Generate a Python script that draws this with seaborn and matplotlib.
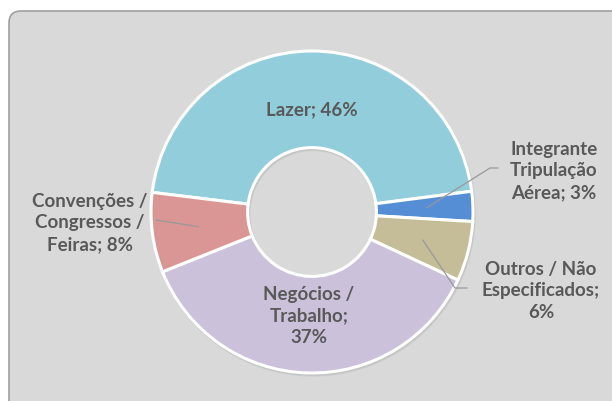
import numpy as np
import matplotlib
matplotlib.use("Agg")
import matplotlib.pyplot as plt
from matplotlib.patches import FancyBboxPatch, Wedge
import seaborn as sns

# ---- data ----
categories = ["Lazer", "Integrante Tripulação Aérea", "Outros / Não Especificados",
              "Negócios / Trabalho", "Convenções / Congressos / Feiras"]
values = [46, 3, 6, 37, 8]
label_texts = ["Lazer; 46%", "Integrante\nTripulação\nAérea; 3%",
               "Outros / Não\nEspecificados;\n6%", "Negócios /\nTrabalho;\n37%",
               "Convenções /\nCongressos /\nFeiras; 8%"]
colors = ["#92CDDC", "#558ED5", "#C4BD97", "#CCC1DA", "#D99694"]

sns.set_style("white")
plt.rcParams['font.family'] = ['Lato', 'DejaVu Sans']

W, H = 612, 402
fig = plt.figure(figsize=(W / 100, H / 100), dpi=100)
ax = fig.add_axes([0, 0, 1, 1])

# background rounded panel
bg = FancyBboxPatch((9, -20), 640, H - 12 + 20, boxstyle="round,pad=0,rounding_size=12",
                    facecolor="#D9D9D9", edgecolor="#A0A0A0", linewidth=1.2, zorder=0)
ax.add_patch(bg)

cx, cy, R = 312, H - 213, 161
start = 173

# faint shadow behind ring
for off, al in ((2.2, 0.10), (1.4, 0.14)):
    ax.add_patch(Wedge((cx + off * 0.6, cy - off), R + 1.5, 0, 360, width=0.6 * R + 3,
                       facecolor="#808080", edgecolor="none", alpha=al, zorder=1))

wedges, _ = ax.pie(values, colors=colors, startangle=start, counterclock=False,
                   center=(cx, cy), radius=R,
                   wedgeprops=dict(width=0.6 * R, edgecolor="white", linewidth=2.2),
                   frame=False)
for w in wedges:
    w.set_zorder(2)

ax.set_xlim(0, W)
ax.set_ylim(0, H)
ax.set_aspect('auto')
ax.axis('off')

# mid angles
total = sum(values)
angles = []
a = start
for v in values:
    span = 360 * v / total
    angles.append(a - span / 2)
    a -= span

def pt(r, ang):
    t = np.deg2rad(ang)
    return cx + r * R * np.cos(t), cy + r * R * np.sin(t)

txt_kw = dict(ha='center', va='center', fontsize=13.5, fontweight='bold',
              color='#595959', linespacing=1.33, zorder=5)

# inside labels
for i in (0, 3):
    x, y = pt(0.64, angles[i])
    ax.text(x, y, label_texts[i], **txt_kw)

# outside labels with leader lines
out = {1: ((554, H - 171), [(498, H - 169), (490, H - 169)]),
       2: ((541, H - 291), [(467, H - 289), (455, H - 289)]),
       4: ((90, H - 223), [(156, H - 221)])}
for i, (lp, path) in out.items():
    ax.text(lp[0], lp[1], label_texts[i], **txt_kw)
    ex, ey = pt(0.71, angles[i])
    xs = [p[0] for p in path] + [ex]
    ys = [p[1] for p in path] + [ey]
    ax.plot(xs, ys, color="#999999", lw=0.9, zorder=4)

fig.savefig("out.png", dpi=100, facecolor="white")
